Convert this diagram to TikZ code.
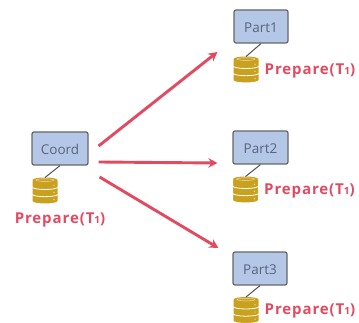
\documentclass[tikz,border=0pt]{standalone}
\usepackage{fontspec}
\setmainfont{Open Sans}
\usetikzlibrary{calc,positioning,arrows.meta}
\definecolor{boxblue}{HTML}{B4C7E7}
\definecolor{boxline}{HTML}{666666}
\definecolor{labelgrey}{HTML}{56657C}
\definecolor{sendred}{HTML}{E24A62}
\definecolor{dbgold}{HTML}{CAA01F}
\newcommand{\dbstack}[2]
	{
	\node[dbnode] (#1) at (#2) {};
	\foreach \lvl in {2,1,0}
		{
		\fill[dbgold,draw=white,line width=0.8pt] ($(#1.north west)+(-0.4,2.5+7.2*\lvl)$) -- ++(0,7) arc[start angle=180,end angle=0,x radius=12.9,y radius=2.5] -- ++(0,-7) -- cycle;
		\fill[dbgold] ($(#1.north)+(0,2.5+7.2*\lvl)$) ellipse (12.5 and 2.5);
		\fill[white!75!dbgold] ($(#1.north east)+(-3.5,7.8+7.2*\lvl)$) circle (0.7);
		}
	\draw[white!70!dbgold,line width=0.4pt] ($(#1.north)+(0,2.6)$) ellipse (9 and 1.3);
	}
\tikzset{
	boxnode/.style={draw=boxline,fill=boxblue,rounded corners=2pt,line width=1.2pt,text=labelgrey,font=\fontsize{13.5}{16}\selectfont,minimum height=33pt,inner sep=0pt,text height=13pt,text depth=0pt},
	dbnode/.style={minimum width=25pt,minimum height=26pt,inner sep=0pt,outer sep=0pt},
	preplabel/.style={text=sendred,font=\fontsize{15}{18}\selectfont\bfseries\addfontfeatures{LetterSpace=6},inner sep=0pt},
	dbline/.style={draw=boxline!80!black,line width=1pt},
	sendarrow/.style={draw=sendred,line width=2.9pt,-{Stealth[length=9pt,width=9.5pt]}}
}
\newcommand{\prepare}{Prepare(T{\fontsize{10}{12}\selectfont 1})}
\begin{document}
\begin{tikzpicture}[x=1pt,y=-1pt]
\useasboundingbox (0,0) rectangle (359,323);

% boxes
\node[boxnode,minimum width=56pt] (coord) at (60,148.5) {Coord};
\node[boxnode,minimum width=54pt] (part1) at (261,26.5) {Part1};
\node[boxnode,minimum width=55pt] (part2) at (260.5,147.5) {Part2};
\node[boxnode,minimum width=54pt] (part3) at (260,268.5) {Part3};

% databases
\dbstack{coorddb}{45,190.5}
\dbstack{part1db}{246,69.5}
\dbstack{part2db}{245.5,189.5}
\dbstack{part3db}{246,310}

\draw[dbline] (coord.south) -- (coorddb.north);
\draw[dbline] (part1.south) -- (part1db.north);
\draw[dbline] (part2.south) -- (part2db.north);
\draw[dbline] (part3.south) -- (part3db.north);

% labels
\node[preplabel] (coordlabel) at (60,220) {\prepare};
\node[preplabel,right=6pt of part1db,yshift=-1pt] (part1label) {\prepare};
\node[preplabel,right=6pt of part2db,yshift=-1pt] (part2label) {\prepare};
\node[preplabel,right=6pt of part3db,yshift=-1pt] (part3label) {\prepare};

% sends
\coordinate (send1) at ($(coord.east)+(10,-2.5)$);
\coordinate (send2) at ($(coord.east)+(10,13.5)$);
\coordinate (send3) at ($(coord.east)+(11,28.5)$);
\coordinate (recv1) at ($(part1.west)+(-16,25.5)$);
\coordinate (recv2) at ($(part2.west)+(-15,15.5)$);
\coordinate (recv3) at ($(part3.west)+(-14,-20.5)$);
\draw[sendarrow] (send1) -- (recv1);
\draw[sendarrow] (send2) -- (recv2);
\draw[sendarrow] (send3) -- (recv3);

\end{tikzpicture}
\end{document}
